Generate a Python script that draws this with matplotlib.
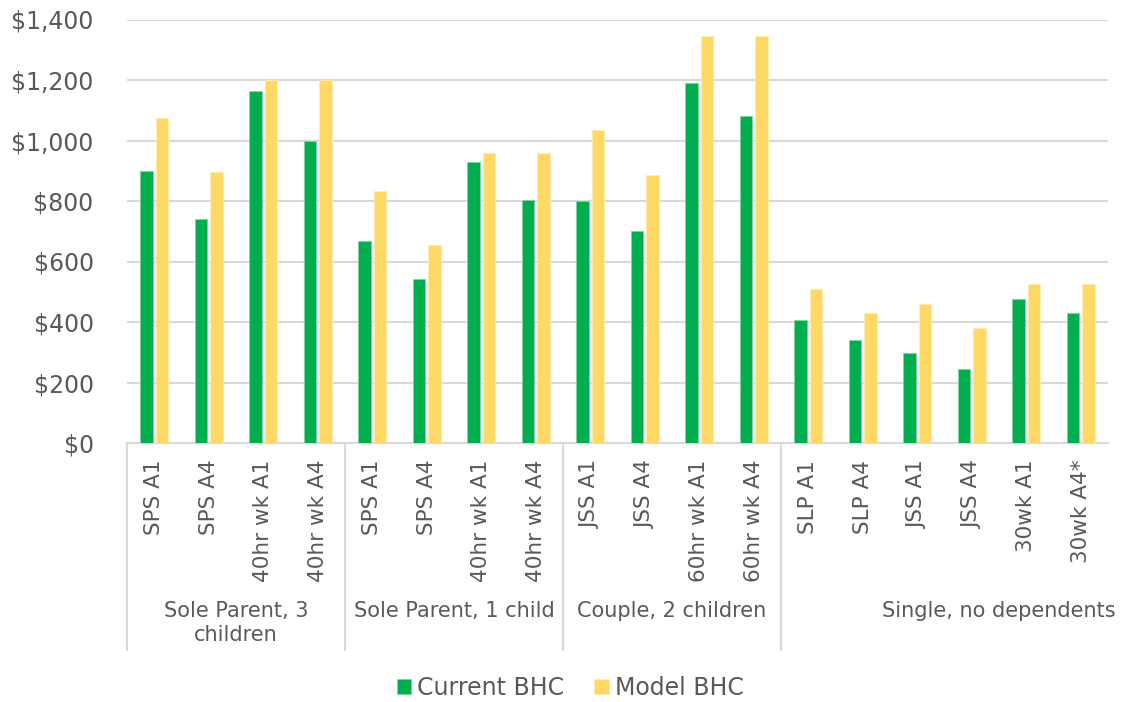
import matplotlib
matplotlib.use("Agg")
import matplotlib.pyplot as plt
from matplotlib.lines import Line2D
from matplotlib.ticker import FuncFormatter, MultipleLocator
import numpy as np

# Household scenarios
categories = ["SPS A1", "SPS A4", "40hr wk A1", "40hr wk A4",
              "SPS A1", "SPS A4", "40hr wk A1", "40hr wk A4",
              "JSS A1", "JSS A4", "60hr wk A1", "60hr wk A4",
              "SLP A1", "SLP A4", "JSS A1", "JSS A4", "30wk A1", "30wk A4*"]
groups = ["Sole Parent, 3\nchildren", "Sole Parent, 1 child",
          "Couple, 2 children", "Single, no dependents"]
group_sizes = [4, 4, 4, 6]

current_bhc = [900, 740, 1164, 1000,
               667, 542, 928, 803,
               800, 700, 1189, 1082,
               408, 340, 297, 244, 477, 429]
model_bhc = [1075, 896, 1200, 1200,
             833, 653, 958, 958,
             1036, 886, 1345, 1345,
             510, 431, 459, 381, 526, 526]

GREEN = "#00AE4D"
YELLOW = "#FFD966"
TEXT = "#595959"
GRID = "#D9D9D9"

W, H = 1124, 702
fig = plt.figure(figsize=(W / 100, H / 100), dpi=100)
left, right, top, bottom = 127, 1108, 19.5, 443
ax = fig.add_axes([left / W, 1 - bottom / H, (right - left) / W, (bottom - top) / H])

x = np.arange(len(categories))
bw = 0.225
ax.bar(x - 0.14, current_bhc, bw, color=GREEN, edgecolor="#7fd6a6", linewidth=0.6,
       label="Current BHC", zorder=3)
ax.bar(x + 0.14, model_bhc, bw, color=YELLOW, edgecolor="#ffecb3", linewidth=0.6,
       label="Model BHC", zorder=3)

ax.set_xlim(-0.5, len(categories) - 0.5)
ax.set_ylim(0, 1400)
ax.yaxis.set_major_locator(MultipleLocator(200))
ax.yaxis.set_major_formatter(FuncFormatter(lambda v, p: f"${v:,.0f}"))
ax.grid(axis="y", color=GRID, linewidth=1.5, zorder=0)
ax.set_axisbelow(True)

for s in ["top", "right", "left"]:
    ax.spines[s].set_visible(False)
ax.spines["bottom"].set_color(GRID)
ax.spines["bottom"].set_linewidth(1.5)

ax.tick_params(axis="y", length=0, pad=24, labelsize=17, labelcolor=TEXT)
ax.set_xticks(x)
ax.set_xticklabels(categories, rotation=90, fontsize=15.5, color=TEXT)
ax.tick_params(axis="x", length=0, pad=12)

# Group separators and group labels below the category labels
axh = bottom - top
sep_y = -(650 - bottom) / axh
trans = ax.get_xaxis_transform()
start = 0
label_offsets = [0, 0, 0, 1.0]
for name, n, off in zip(groups, group_sizes, label_offsets):
    ax.add_line(Line2D([start - 0.5, start - 0.5], [0, sep_y], transform=trans,
                       color=GRID, linewidth=1.5, clip_on=False))
    cx = start + (n - 1) / 2 + off
    ax.text(cx, -(601 - bottom) / axh, name, transform=trans, ha="center", va="top",
            fontsize=15, color=TEXT, linespacing=1.25)
    start += n

fig.legend(loc="center", bbox_to_anchor=(570 / W, 1 - 688 / H), ncol=2,
           frameon=False, fontsize=17, labelcolor=TEXT,
           handlelength=0.6, handleheight=0.6, handletextpad=0.25,
           columnspacing=1.3)

fig.savefig("out.png", dpi=100)
